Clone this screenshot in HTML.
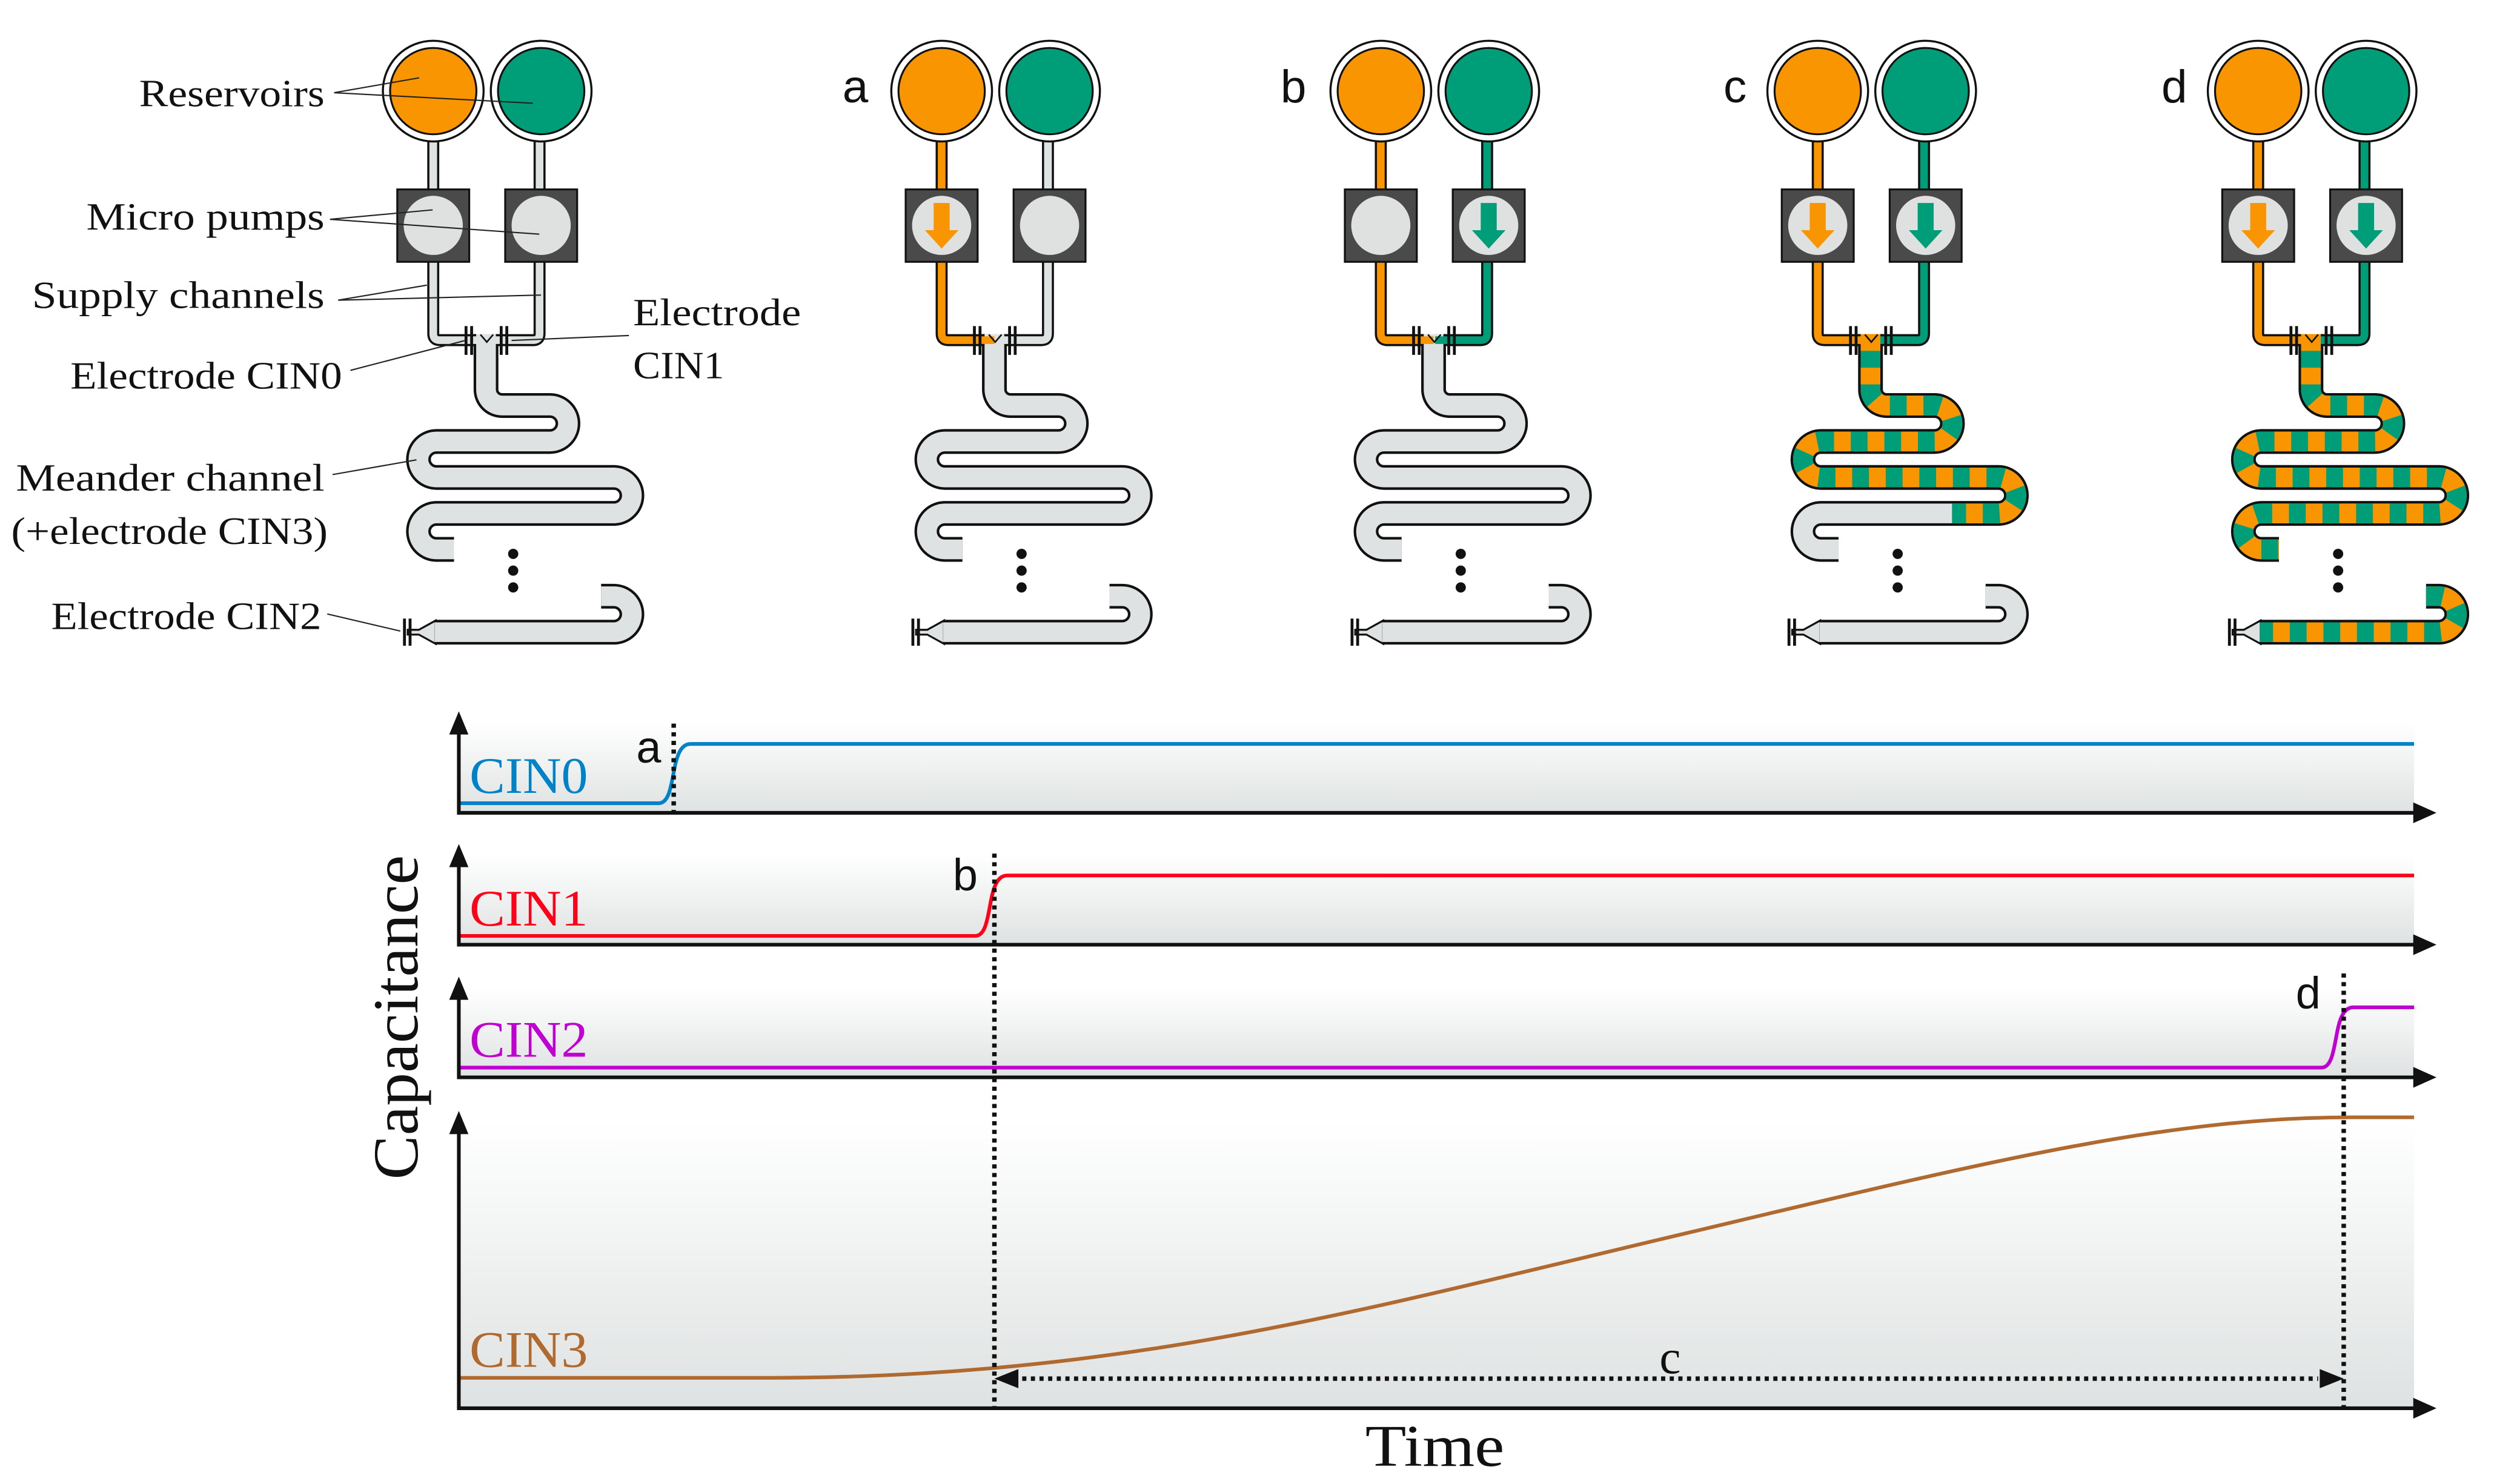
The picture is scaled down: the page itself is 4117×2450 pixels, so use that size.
<!DOCTYPE html>
<html><head><meta charset="utf-8"><style>
html,body{margin:0;padding:0;background:#fff}
svg{display:block}
.s{font-family:"Liberation Serif",serif}
.a{font-family:"Liberation Sans",sans-serif}
</style></head><body>
<svg xmlns="http://www.w3.org/2000/svg" xmlns:xlink="http://www.w3.org/1999/xlink" width="4117" height="2450" viewBox="0 0 1560 928.4" preserveAspectRatio="none">
<defs>
<linearGradient id="bg" x1="0" y1="0" x2="0" y2="1"><stop offset="0" stop-color="#ffffff"/><stop offset="1" stop-color="#dfe2e2"/></linearGradient>
<path id="chL" d="M271,86 V208.8 Q271,212.8 275,212.8 H304"/>
<path id="chR" d="M337.5,86 V208.8 Q337.5,212.8 333.5,212.8 H305"/>
<path id="mp" d="M304,209 V243.7 A10,10 0 0 0 314,253.7 H344 A11.25,11.25 0 0 1 344,276.2 H273 A11.25,11.25 0 0 0 273,298.7 H384 A11.25,11.25 0 0 1 384,321.2 H273 A11.25,11.25 0 0 0 273,343.7 H284"/>
<path id="mpc" d="M304,209 V243.7 A10,10 0 0 0 314,253.7 H344 A11.25,11.25 0 0 1 344,276.2 H273 A11.25,11.25 0 0 0 273,298.7 H384 A11.25,11.25 0 0 1 384,321.2 H355"/>
<path id="bt" d="M376,373 H384 A11.25,11.25 0 0 1 384,395.5 H272"/>
<g id="base1">
  <use xlink:href="#chL" fill="none" stroke="#111" stroke-width="7.5"/>
  <use xlink:href="#chR" fill="none" stroke="#111" stroke-width="7.5"/>
  <use xlink:href="#mp" fill="none" stroke="#111" stroke-width="15.5"/>
  <use xlink:href="#bt" fill="none" stroke="#111" stroke-width="15.5"/>
  <polygon points="272.5,388.2 262,394 255,394 255,397 262,397 272.5,402.8" fill="#dfe2e2" stroke="#111" stroke-width="1.2"/>
  <use xlink:href="#mp" fill="none" stroke="#dfe2e2" stroke-width="12.3"/>
  <use xlink:href="#bt" fill="none" stroke="#dfe2e2" stroke-width="12.3"/>
</g>
<g id="top">
  <circle cx="271" cy="57" r="31.5" fill="#fff" stroke="#111" stroke-width="1.3"/>
  <circle cx="271" cy="57" r="27" fill="#f99500" stroke="#111" stroke-width="1.2"/>
  <circle cx="338.5" cy="57" r="31.5" fill="#fff" stroke="#111" stroke-width="1.3"/>
  <circle cx="338.5" cy="57" r="27" fill="#009e78" stroke="#111" stroke-width="1.2"/>
  <rect x="248.5" y="118.5" width="45" height="45.3" fill="#4a4a4a" stroke="#111" stroke-width="1.2"/>
  <circle cx="271" cy="141" r="18.5" fill="#dfe1e1"/>
  <rect x="316" y="118.5" width="45" height="45.3" fill="#4a4a4a" stroke="#111" stroke-width="1.2"/>
  <circle cx="338.5" cy="141" r="18.5" fill="#dfe1e1"/>
  <polyline points="300.5,209.3 304.5,214 308.5,209.3" fill="none" stroke="#111" stroke-width="1"/>
  <g stroke="#111" stroke-width="1.8">
    <line x1="291.5" y1="204" x2="291.5" y2="222"/><line x1="295" y1="204" x2="295" y2="222"/>
    <line x1="313.5" y1="204" x2="313.5" y2="222"/><line x1="317" y1="204" x2="317" y2="222"/>
    <line x1="253" y1="387" x2="253" y2="404"/><line x1="256.5" y1="387" x2="256.5" y2="404"/>
  </g>
  <circle cx="321" cy="346.5" r="3.2" fill="#111"/><circle cx="321" cy="357" r="3.2" fill="#111"/><circle cx="321" cy="367.5" r="3.2" fill="#111"/>
</g>
<polygon id="arO" points="266,127 276,127 276,144 281.5,144 271,155.5 260.5,144 266,144" fill="#f99500"/>
<polygon id="arG" points="333.5,127 343.5,127 343.5,144 349,144 338.5,155.5 328,144 333.5,144" fill="#009e78"/>
</defs>

<g>
  <use xlink:href="#base1"/>
  <use xlink:href="#chL" fill="none" stroke="#dfe2e2" stroke-width="4.8"/>
  <use xlink:href="#chR" fill="none" stroke="#dfe2e2" stroke-width="4.8"/>
  <use xlink:href="#top"/>
</g>
<g transform="translate(318,0)">
  <use xlink:href="#base1"/>
  <use xlink:href="#chR" fill="none" stroke="#dfe2e2" stroke-width="4.8"/>
  <use xlink:href="#chL" fill="none" stroke="#f99500" stroke-width="4.8"/>
  <use xlink:href="#top"/>
  <use xlink:href="#arO"/>
</g>
<g transform="translate(592.7,0)">
  <use xlink:href="#base1"/>
  <use xlink:href="#chR" fill="none" stroke="#009e78" stroke-width="4.8"/>
  <use xlink:href="#chL" fill="none" stroke="#f99500" stroke-width="4.8"/>
  <use xlink:href="#top"/>
  <use xlink:href="#arG"/>
</g>
<g transform="translate(866,0)">
  <use xlink:href="#base1"/>
  <use xlink:href="#chR" fill="none" stroke="#009e78" stroke-width="4.8"/>
  <use xlink:href="#chL" fill="none" stroke="#f99500" stroke-width="4.8"/>
  <use xlink:href="#mpc" fill="none" stroke="#f99500" stroke-width="12.3"/>
  <use xlink:href="#mpc" fill="none" stroke="#009e78" stroke-width="12.3" stroke-dasharray="10.5 10.5" stroke-dashoffset="-10.5"/>
  <use xlink:href="#top"/>
  <use xlink:href="#arO"/><use xlink:href="#arG"/>
</g>
<g transform="translate(1141.5,0)">
  <use xlink:href="#base1"/>
  <use xlink:href="#chR" fill="none" stroke="#009e78" stroke-width="4.8"/>
  <use xlink:href="#chL" fill="none" stroke="#f99500" stroke-width="4.8"/>
  <use xlink:href="#mp" fill="none" stroke="#f99500" stroke-width="12.3"/>
  <use xlink:href="#mp" fill="none" stroke="#009e78" stroke-width="12.3" stroke-dasharray="10.5 10.5" stroke-dashoffset="-10.5"/>
  <use xlink:href="#bt" fill="none" stroke="#f99500" stroke-width="12.3"/>
  <use xlink:href="#bt" fill="none" stroke="#009e78" stroke-width="12.3" stroke-dasharray="10.5 10.5"/>
  <use xlink:href="#top"/>
  <use xlink:href="#arO"/><use xlink:href="#arG"/>
</g>

<g class="a" font-size="29" fill="#111">
  <text x="527" y="64">a</text>
  <text x="801" y="64">b</text>
  <text x="1078" y="64">c</text>
  <text x="1352" y="64">d</text>
</g>

<g class="s" font-size="24" fill="#111">
  <text x="87" y="66.5" textLength="116" lengthAdjust="spacingAndGlyphs">Reservoirs</text>
  <text x="54" y="143.6" textLength="149" lengthAdjust="spacingAndGlyphs">Micro pumps</text>
  <text x="20" y="192.7" textLength="183" lengthAdjust="spacingAndGlyphs">Supply channels</text>
  <text x="44" y="243" textLength="170" lengthAdjust="spacingAndGlyphs">Electrode CIN0</text>
  <text x="396" y="203.4" textLength="105" lengthAdjust="spacingAndGlyphs">Electrode</text>
  <text x="396" y="236.7" textLength="57" lengthAdjust="spacingAndGlyphs">CIN1</text>
  <text x="10" y="307" textLength="193" lengthAdjust="spacingAndGlyphs">Meander channel</text>
  <text x="7" y="340.3" textLength="198" lengthAdjust="spacingAndGlyphs">(+electrode CIN3)</text>
  <text x="32" y="393.5" textLength="169" lengthAdjust="spacingAndGlyphs">Electrode CIN2</text>
</g>
<g stroke="#222" stroke-width="0.8" fill="none">
  <polyline points="262.2,48.7 209,58 333.3,64.6"/>
  <polyline points="270.6,131.3 206.4,137.2 337.3,146.5"/>
  <polyline points="267,178.4 211.5,187.8 338.4,184.6"/>
  <line x1="219.2" y1="231.7" x2="291" y2="213"/>
  <line x1="393.4" y1="209.9" x2="320" y2="213"/>
  <line x1="208" y1="296.9" x2="260.5" y2="287.7"/>
  <line x1="204.7" y1="384.1" x2="250.4" y2="394.8"/>
</g>

<rect x="288" y="452" width="1222" height="56.5" fill="url(#bg)"/>
<rect x="288" y="535" width="1222" height="56" fill="url(#bg)"/>
<rect x="288" y="618" width="1222" height="56" fill="url(#bg)"/>
<rect x="288" y="702" width="1222" height="178" fill="url(#bg)"/>

<g fill="none" stroke-width="2.3">
  <path d="M288,502.5 H412 C424,502.5 418,465.4 432,465.4 H1510" stroke="#0082c8"/>
  <path d="M288,585.5 H610 C622,585.5 616,547.7 630,547.7 H1510" stroke="#ff0018"/>
  <path d="M288,667.9 H1452 C1464,667.9 1458,630.2 1472,630.2 H1510" stroke="#c000d0"/>
  <path d="M288,862 H480 C700,862 850,820 1040,775 C1230,730 1350,699 1470,699 H1510" stroke="#b06a30"/>
</g>

<g stroke="#111" stroke-width="2.8" fill="none" stroke-dasharray="2.6 2.8">
  <line x1="421.4" y1="452.7" x2="421.4" y2="508"/>
  <line x1="622" y1="534" x2="622" y2="880"/>
  <line x1="1466" y1="609" x2="1466" y2="880"/>
  <line x1="634" y1="862.5" x2="1450" y2="862.5"/>
</g>
<polygon points="622,862.5 637,856.5 637,868.5" fill="#111"/>
<polygon points="1466,862.5 1451,856.5 1451,868.5" fill="#111"/>

<g stroke="#111" stroke-width="2.3" fill="none">
  <polyline points="287,456 287,508.5 1512,508.5"/>
  <polyline points="287,539 287,591 1512,591"/>
  <polyline points="287,622 287,674 1512,674"/>
  <polyline points="287,708 287,881 1512,881"/>
</g>
<g fill="#111">
  <polygon points="287,445 281,459.5 293,459.5"/>
  <polygon points="287,528 281,542.5 293,542.5"/>
  <polygon points="287,611 281,625.5 293,625.5"/>
  <polygon points="287,695 281,709.5 293,709.5"/>
  <polygon points="1524,508.5 1509.5,502 1509.5,515"/>
  <polygon points="1524,591 1509.5,584.5 1509.5,597.5"/>
  <polygon points="1524,674 1509.5,667.5 1509.5,680.5"/>
  <polygon points="1524,881 1509.5,874.5 1509.5,887.5"/>
</g>

<g class="s" font-size="32">
  <text x="293.7" y="496" fill="#0082c8" textLength="74" lengthAdjust="spacingAndGlyphs">CIN0</text>
  <text x="293.7" y="579" fill="#ff0018" textLength="74" lengthAdjust="spacingAndGlyphs">CIN1</text>
  <text x="293.7" y="661" fill="#c000d0" textLength="74" lengthAdjust="spacingAndGlyphs">CIN2</text>
  <text x="293.7" y="855" fill="#b06a30" textLength="74" lengthAdjust="spacingAndGlyphs">CIN3</text>
</g>
<g class="a" font-size="28" fill="#111">
  <text x="398" y="477">a</text>
  <text x="596" y="557">b</text>
  <text x="1436" y="631">d</text>
</g>
<text class="s" x="1038" y="859" font-size="30" fill="#111">c</text>
<text class="s" x="854" y="917" font-size="37" fill="#111" textLength="87" lengthAdjust="spacingAndGlyphs">Time</text>
<text class="s" font-size="40" fill="#111" transform="translate(261,738) rotate(-90)" textLength="203" lengthAdjust="spacingAndGlyphs">Capacitance</text>
</svg>
</body></html>
